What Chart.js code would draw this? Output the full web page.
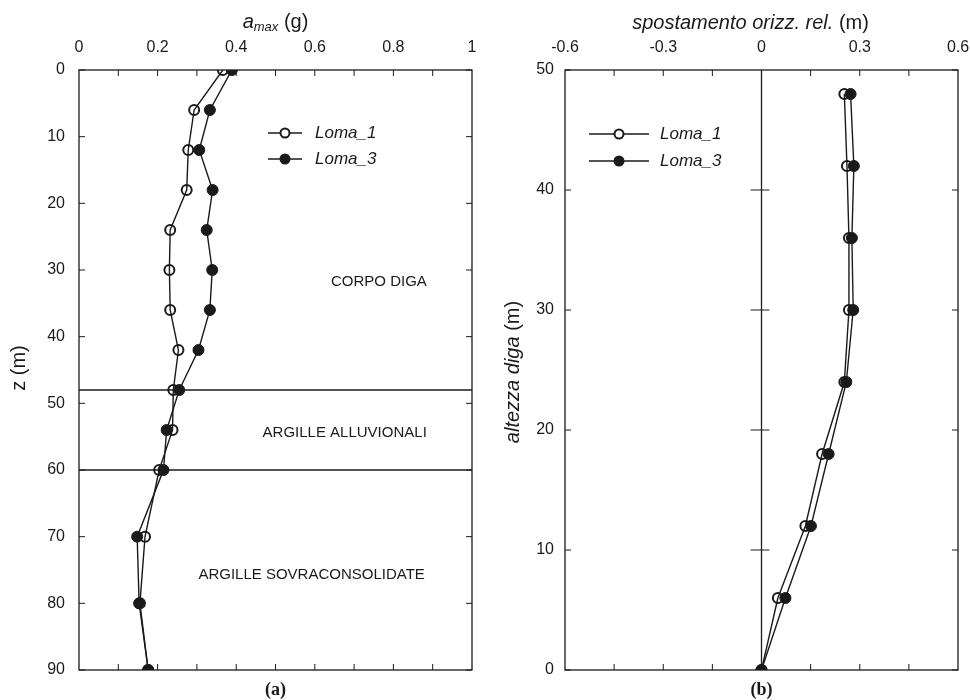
<!DOCTYPE html>
<html><head><meta charset="utf-8">
<script src="https://cdn.jsdelivr.net/npm/chart.js@4/dist/chart.umd.min.js"></script>
<style>
html,body{margin:0;padding:0;background:#fff;}
#wrap{position:relative;width:970px;height:700px;overflow:hidden;}
#c1{position:absolute;left:0;top:0;}
#c2{position:absolute;left:490px;top:0;}
</style></head><body>
<div id="wrap"><canvas id="c1" width="490" height="700"></canvas><canvas id="c2" width="480" height="700"></canvas></div>
<script>
// ---------- DATA ----------
const seriesNames = ['Loma_1', 'Loma_3'];
// (a) peak acceleration vs depth
const depthZ = [0, 6, 12, 18, 24, 30, 36, 42, 48, 54, 60, 70, 80, 90];
const amaxLoma1 = [0.366, 0.293, 0.278, 0.274, 0.232, 0.230, 0.232, 0.253, 0.240, 0.238, 0.204, 0.168, 0.155, 0.176];
const amaxLoma3 = [0.389, 0.333, 0.306, 0.340, 0.325, 0.339, 0.333, 0.304, 0.255, 0.223, 0.215, 0.148, 0.153, 0.176];
const amaxTicks = [0, 0.2, 0.4, 0.6, 0.8, 1];
const zTicks = [0, 10, 20, 30, 40, 50, 60, 70, 80, 90];
const layerBoundaries = [48, 60];
const layerNames = ['CORPO DIGA', 'ARGILLE ALLUVIONALI', 'ARGILLE SOVRACONSOLIDATE'];
const layerLabelZ = [31.8, 54.4, 75.8];
const layerLabelA = [0.885, 0.885, 0.88];
// (b) relative horizontal displacement vs dam height
const heightDam = [0, 6, 12, 18, 24, 30, 36, 42, 48];
const dispLoma1 = [0, 0.050, 0.134, 0.185, 0.253, 0.267, 0.267, 0.261, 0.253];
const dispLoma3 = [0, 0.073, 0.151, 0.205, 0.259, 0.280, 0.276, 0.282, 0.272];
const dispTicks = [-0.6, -0.3, 0, 0.3, 0.6];
const heightTicks = [0, 10, 20, 30, 40, 50];

// ---------- STYLE HELPERS ----------
const INK = '#1a1a1a';
const SANS = '"Liberation Sans", Arial, sans-serif';
const SERIF = '"Liberation Serif", "Times New Roman", serif';
Chart.defaults.font.family = SANS;
Chart.defaults.color = INK;

function drawRuns(ctx, runs, cx, cy, rot) {
  ctx.save();
  ctx.translate(cx, cy);
  if (rot) ctx.rotate(rot);
  let w = 0;
  runs.forEach(r => { ctx.font = r.font; r.w = ctx.measureText(r.t).width; w += r.w; });
  let x = -w / 2;
  ctx.fillStyle = INK;
  ctx.textBaseline = 'middle';
  ctx.textAlign = 'left';
  runs.forEach(r => { ctx.font = r.font; ctx.fillText(r.t, x, r.dy || 0); x += r.w; });
  ctx.restore();
}
function seg(ctx, x1, y1, x2, y2) { ctx.beginPath(); ctx.moveTo(x1, y1); ctx.lineTo(x2, y2); ctx.stroke(); }

function makeDatasets(xs1, xs3, ys) {
  return [
    { label: seriesNames[0], data: ys.map((v, i) => ({ x: xs1[i], y: v })), showLine: true,
      borderColor: INK, borderWidth: 1.4, pointRadius: 5, pointBorderWidth: 2,
      pointBackgroundColor: 'rgba(255,255,255,0)', pointBorderColor: INK },
    { label: seriesNames[1], data: ys.map((v, i) => ({ x: xs3[i], y: v })), showLine: true,
      borderColor: INK, borderWidth: 1.4, pointRadius: 5.5, pointBorderWidth: 1,
      pointBackgroundColor: INK, pointBorderColor: INK }
  ];
}
function drawLegend(ctx, x0, x1, yRows, textX) {
  yRows.forEach((yy, i) => {
    ctx.save();
    ctx.strokeStyle = INK; ctx.lineWidth = 1.4;
    seg(ctx, x0, yy, x1, yy);
    const mx = (x0 + x1) / 2;
    ctx.beginPath(); ctx.arc(mx, yy, i === 0 ? 4.5 : 5.5, 0, Math.PI * 2);
    if (i === 0) { ctx.fillStyle = '#fff'; ctx.fill(); ctx.lineWidth = 2; ctx.stroke(); }
    else { ctx.fillStyle = INK; ctx.fill(); }
    ctx.fillStyle = INK; ctx.font = 'italic 17px ' + SANS; ctx.textBaseline = 'middle';
    ctx.fillText(seriesNames[i], textX, yy);
    ctx.restore();
  });
}

const common = (xMin, xMax, xT, yMin, yMax, yT, yRev, yW, padR, yPad) => ({
  responsive: false, animation: false, devicePixelRatio: 1, events: [],
  layout: { padding: { left: 0, right: padR, top: 0, bottom: 30 } },
  plugins: { legend: { display: false }, tooltip: { enabled: false } },
  scales: {
    x: { type: 'linear', position: 'top', min: xMin, max: xMax,
      afterBuildTicks: s => { s.ticks = xT.map(v => ({ value: v })); },
      afterFit: s => { s.height = 70; s.paddingLeft = 0; s.paddingRight = 0; },
      grid: { display: false, drawTicks: false }, border: { display: false },
      ticks: { padding: 13, font: { size: 16 }, color: INK, callback: v => String(v), maxRotation: 0 } },
    y: { type: 'linear', min: yMin, max: yMax, reverse: yRev,
      afterBuildTicks: s => { s.ticks = yT.map(v => ({ value: v })); },
      afterFit: s => { s.width = yW; s.paddingTop = 0; s.paddingBottom = 0; },
      grid: { display: false, drawTicks: false }, border: { display: false },
      ticks: { padding: yPad, font: { size: 16 }, color: INK, callback: v => String(v) } }
  }
});

// ---------- CHART (a) ----------
const decorA = {
  id: 'decorA',
  afterDatasetsDraw(chart) {
    const { ctx, chartArea: a, scales: { x, y } } = chart;
    ctx.save();
    ctx.strokeStyle = INK; ctx.lineWidth = 1.3;
    ctx.strokeRect(a.left, a.top, a.right - a.left, a.bottom - a.top);
    ctx.lineWidth = 1;
    for (let k = 1; k < 10; k++) {
      const px = x.getPixelForValue(k / 10);
      seg(ctx, px, a.top, px, a.top + 6); seg(ctx, px, a.bottom, px, a.bottom - 6);
    }
    zTicks.forEach(v => { const py = y.getPixelForValue(v);
      seg(ctx, a.left, py, a.left + 6, py); seg(ctx, a.right, py, a.right - 6, py); });
    ctx.lineWidth = 1.3;
    layerBoundaries.forEach(v => { const py = y.getPixelForValue(v); seg(ctx, a.left, py, a.right, py); });
    ctx.fillStyle = INK; ctx.font = '15px ' + SANS; ctx.textAlign = 'right'; ctx.textBaseline = 'middle';
    layerNames.forEach((t, i) => ctx.fillText(t, x.getPixelForValue(layerLabelA[i]), y.getPixelForValue(layerLabelZ[i])));
    ctx.restore();
    drawLegend(ctx, 268, 302, [133, 159], 315);
    drawRuns(ctx, [{ t: 'a', font: 'italic 20px ' + SANS }, { t: 'max', font: 'italic 13px ' + SANS, dy: 5 },
      { t: ' (g)', font: '20px ' + SANS }], (a.left + a.right) / 2, 22, 0);
    drawRuns(ctx, [{ t: 'z (m)', font: '20px ' + SANS }], 19, 368, -Math.PI / 2);
    drawRuns(ctx, [{ t: '(a)', font: 'bold 18px ' + SERIF }], (a.left + a.right) / 2, 690, 0);
  }
};
new Chart(document.getElementById('c1'), {
  type: 'scatter',
  data: { datasets: makeDatasets(amaxLoma1, amaxLoma3, depthZ) },
  options: common(0, 1, amaxTicks, 0, 90, zTicks, true, 79, 18, 14),
  plugins: [decorA]
});

// ---------- CHART (b) ----------
const decorB = {
  id: 'decorB',
  beforeDatasetsDraw(chart) {
    const { ctx, chartArea: a, scales: { x, y } } = chart;
    ctx.save();
    ctx.strokeStyle = INK; ctx.lineWidth = 1.3;
    ctx.strokeRect(a.left, a.top, a.right - a.left, a.bottom - a.top);
    const x0 = x.getPixelForValue(0);
    seg(ctx, x0, a.top, x0, a.bottom);
    ctx.lineWidth = 1;
    for (let k = -3; k <= 3; k++) {
      if (k === 0) continue;
      const px = x.getPixelForValue(k * 0.15);
      seg(ctx, px, a.top, px, a.top + 6); seg(ctx, px, a.bottom, px, a.bottom - 6);
    }
    heightTicks.forEach(v => { const py = y.getPixelForValue(v);
      seg(ctx, a.left, py, a.left + 6, py); seg(ctx, a.right, py, a.right - 6, py);
      if (v > 0 && v < 50) seg(ctx, x0 - 11, py, x0 + 8, py); });
    ctx.restore();
  },
  afterDatasetsDraw(chart) {
    const { ctx, chartArea: a, scales: { x } } = chart;
    drawLegend(ctx, 589 - 490, 649 - 490, [134, 161], 660 - 490);
    drawRuns(ctx, [{ t: 'spostamento orizz. rel.', font: 'italic 20px ' + SANS }, { t: ' (m)', font: '20px ' + SANS }],
      (a.left + a.right) / 2 - 11, 23, 0);
    drawRuns(ctx, [{ t: 'altezza diga', font: 'italic 20px ' + SANS }, { t: ' (m)', font: '20px ' + SANS }],
      23, 372, -Math.PI / 2);
    drawRuns(ctx, [{ t: '(b)', font: 'bold 18px ' + SERIF }], x.getPixelForValue(0), 690, 0);
  }
};
new Chart(document.getElementById('c2'), {
  type: 'scatter',
  data: { datasets: makeDatasets(dispLoma1, dispLoma3, heightDam) },
  options: common(-0.6, 0.6, dispTicks, 0, 50, heightTicks, false, 75, 12, 11),
  plugins: [decorB]
});
</script>
</body></html>
